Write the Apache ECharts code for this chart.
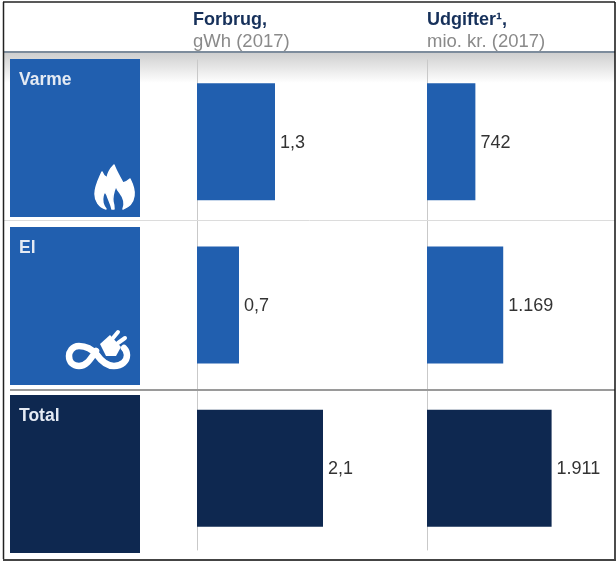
<!DOCTYPE html>
<html>
<head>
<meta charset="utf-8">
<style>html,body{margin:0;padding:0;background:#fff}#chart{width:616px;height:561px}</style>
<script src="https://cdn.jsdelivr.net/npm/echarts@6/dist/echarts.min.js"></script>
</head>
<body>
<div id="chart"></div>
<script>
// Energy consumption and spending, 2017
const categories = ['Varme', 'El', 'Total'];
const forbrugValues = [1.3, 0.7, 2.1];
const udgifterValues = [742, 1169, 1911];
const tileValues = [1, 1, 1];
const columnTitles = [
  { head: 'Forbrug,', sub: 'gWh (2017)' },
  { head: 'Udgifter¹,', sub: 'mio. kr. (2017)' }
];

const BLUE = '#215FAF';
const NAVY = '#0E2850';
const FONT = '"Liberation Sans", Arial, sans-serif';

const colourFor = name => (name === 'Total' ? NAVY : BLUE);
const decimalComma = v => v.toFixed(1).replace('.', ',');
const thousandDot = v => String(v).replace(/\B(?=(\d{3})+$)/g, '.');

// Icon outlines, in local pixels
const flamePath = 'M29 5C31 11 35 17 38 23C41 22 43 21 45 19C48 25 50 30 49 36C48 43 44 47 38 49C40 44 39 38 35 33C33 31 32 29 31 26C29 31 27 35 28 42C29 45 29 47 29 49L27 49C26 44 24 41 22 35C20 31 19 32 18 36C17 40 18 45 21 49C14 47 10 41 10 34C10 26 14 19 17 12C18 15 20 17 22 18C23 12 26 8 29 5Z';
const loopLeft = 'M37 30C32 24 26 21 19 21C12 21 9 27 9 31C9 37 13 41 19 41C27 41 31 33 36 26';
const loopRight = 'M37 30C42 37 47 41 54 41C62 41 67 36 67 30C67 27 66 25 64 23';
const plugHead = 'M40 19L50 10L61 22L56 31L46 31Z';
const prongs = 'M53 13L58 7M58 18L65 13';

const iconParts = {
  Varme: { dx: -55, dy: 22, children: [
    { path: flamePath, fill: '#fff', stroke: '#fff', width: 1.5 }
  ] },
  El: { dx: -80, dy: 19, children: [
    { path: loopLeft, stroke: '#fff', width: 6.5 },
    { path: loopRight, stroke: '#fff', width: 6.5 },
    { path: plugHead, fill: '#fff' },
    { path: prongs, stroke: '#fff', width: 4 }
  ] }
};

const chart = echarts.init(document.getElementById('chart'), null, { renderer: 'canvas' });

function valueColumn(index, values, format) {
  return {
    type: 'bar',
    xAxisIndex: index,
    yAxisIndex: index,
    barWidth: 117,
    data: values.map((v, i) => ({ value: v, itemStyle: { color: colourFor(categories[i]) } })),
    label: {
      show: true,
      position: 'right',
      distance: 5,
      offset: [0, 1],
      fontFamily: FONT,
      fontSize: 18,
      color: '#333',
      formatter: p => format(p.value)
    },
    z: 3
  };
}

function hiddenValueAxis(index, max) {
  return { type: 'value', gridIndex: index, min: 0, max: max, show: false };
}

function rowAxis(index, showLine) {
  return {
    type: 'category',
    gridIndex: index,
    inverse: true,
    data: categories,
    axisTick: { show: false },
    axisLabel: { show: false },
    axisLine: { show: showLine, lineStyle: { color: '#c9c9c9', width: 1 } },
    splitLine: { show: false }
  };
}

function renderIcon(params, api) {
  const row = api.value(1);
  const icon = iconParts[categories[row]];
  const anchor = api.coord([1, row]);
  return {
    type: 'group',
    x: anchor[0] + icon.dx,
    y: anchor[1] + icon.dy,
    children: icon.children.map(part => ({
      type: 'path',
      shape: { pathData: part.path },
      style: {
        fill: part.fill || 'none',
        stroke: part.stroke || 'none',
        lineWidth: part.width || 0,
        lineCap: 'round',
        lineJoin: 'round'
      }
    }))
  };
}

chart.setOption({
  animation: false,
  backgroundColor: '#fff',
  title: columnTitles.map((c, i) => ({
    text: '{h|' + c.head + '}\n{s|' + c.sub + '}',
    left: i === 0 ? 193 : 427,
    top: 9,
    padding: 0,
    textStyle: {
      rich: {
        h: { fontFamily: FONT, fontWeight: 'bold', fontSize: 18, color: '#16305A', lineHeight: 22 },
        s: { fontFamily: FONT, fontWeight: 'normal', fontSize: 18.5, color: '#8a8a8a', lineHeight: 22 }
      }
    }
  })),
  grid: [
    { left: 197, top: 60, width: 210, height: 490 },
    { left: 427, top: 60, width: 184, height: 490 },
    { left: 10, top: 54, width: 130, height: 504 }
  ],
  xAxis: [hiddenValueAxis(0, 3.5), hiddenValueAxis(1, 2822), hiddenValueAxis(2, 1)],
  yAxis: [rowAxis(0, true), rowAxis(1, true), rowAxis(2, false)],
  series: [
    valueColumn(0, forbrugValues, decimalComma),
    valueColumn(1, udgifterValues, thousandDot),
    {
      type: 'bar',
      xAxisIndex: 2,
      yAxisIndex: 2,
      barWidth: 158,
      data: tileValues.map((v, i) => ({ value: v, itemStyle: { color: colourFor(categories[i]) } })),
      label: {
        show: true,
        position: 'insideTopLeft',
        distance: 9,
        offset: [0, 3],
        fontFamily: FONT,
        fontWeight: 'bold',
        fontSize: 17.5,
        color: '#E4EAF3',
        formatter: p => p.name
      },
      z: 3
    },
    {
      type: 'custom',
      xAxisIndex: 2,
      yAxisIndex: 2,
      silent: true,
      data: categories.map((name, i) => [1, i]).filter(d => iconParts[categories[d[1]]]),
      renderItem: renderIcon,
      z: 5
    }
  ],
  graphic: [
    // Soft shadow under the header rule
    { type: 'rect', z: 0, shape: { x: 4, y: 53, width: 611, height: 30 },
      style: { fill: new echarts.graphic.LinearGradient(0, 0, 0, 1, [
        { offset: 0, color: '#cfcfcf' }, { offset: 1, color: '#ffffff' }
      ]) } },
    // Table rules
    { type: 'line', z: 1, shape: { x1: 4, y1: 52, x2: 615, y2: 52 }, style: { stroke: '#7d8c9c', lineWidth: 2 } },
    { type: 'line', z: 1, shape: { x1: 4, y1: 220.5, x2: 615, y2: 220.5 }, style: { stroke: '#dcdcdc', lineWidth: 1 } },
    { type: 'line', z: 1, shape: { x1: 10, y1: 390, x2: 615, y2: 390 }, style: { stroke: '#9a9a9a', lineWidth: 2 } },
    // Outer frame
    { type: 'line', z: 20, shape: { x1: 3, y1: 2, x2: 615, y2: 2 }, style: { stroke: '#222', lineWidth: 1.5 } },
    { type: 'line', z: 20, shape: { x1: 3.5, y1: 2, x2: 3.5, y2: 559 }, style: { stroke: '#222', lineWidth: 1.5 } },
    { type: 'line', z: 20, shape: { x1: 615, y1: 2, x2: 615, y2: 559 }, style: { stroke: '#111', lineWidth: 1.5 } },
    { type: 'line', z: 20, shape: { x1: 3, y1: 560, x2: 616, y2: 560 }, style: { stroke: '#444', lineWidth: 2 } }
  ]
});
</script>
</body>
</html>
